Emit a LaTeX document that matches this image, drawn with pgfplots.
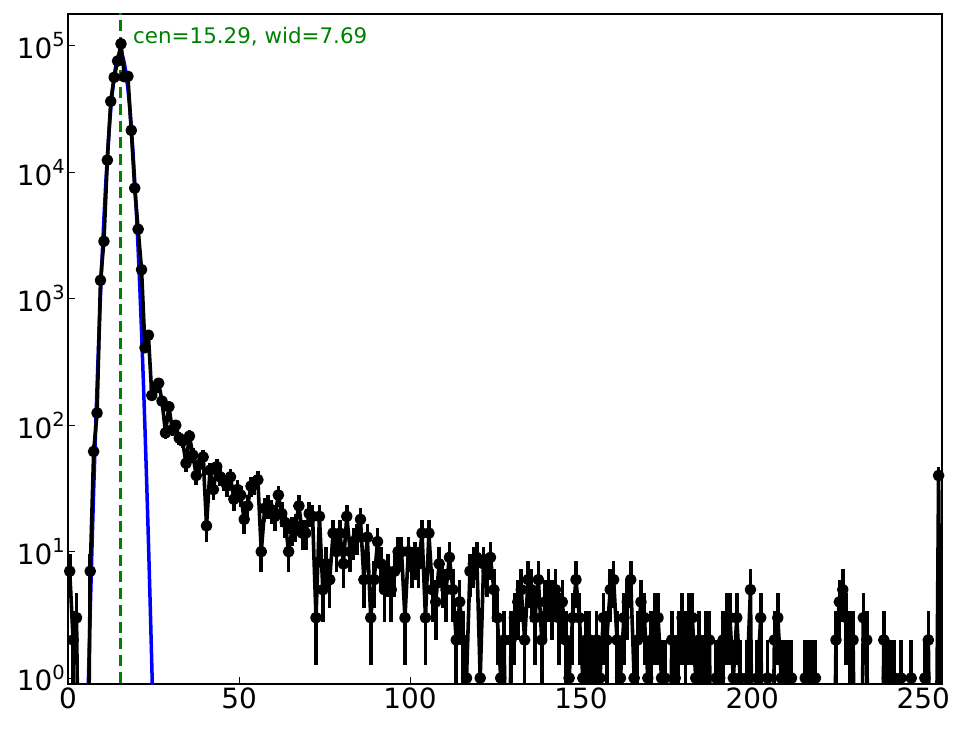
\documentclass[border=0pt]{standalone}
\usepackage{fontspec}
\setmainfont{DejaVu Sans}
\usepackage{pgfplots}
\pgfplotsset{compat=1.18}
\usepackage{pgfplotstable}

\definecolor{fitblue}{RGB}{0,0,255}
\definecolor{cengreen}{RGB}{0,128,0}

% 10^k tick labels set in the text font
\newcommand{\pw}[1]{10\raisebox{0.42em}{\fontsize{19.5}{21}\selectfont #1}}

% counts per bin (bin centre, count)
\pgfplotstableread[row sep=\\]{
x c\\
0.5 7\\ 1.5 2\\ 2.5 3\\ 3.5 0\\ 4.5 0\\ 5.5 0\\ 6.5 7\\ 7.5 62\\ 8.5 125\\ 9.5 1400\\
10.5 2850\\ 11.5 12500\\ 12.5 36500\\ 13.5 56500\\ 14.5 76000\\ 15.5 104000\\ 16.5 57000\\ 17.5 57500\\ 18.5 21500\\ 19.5 7500\\
20.5 3550\\ 21.5 1700\\ 22.5 410\\ 23.5 515\\ 24.5 172\\ 25.5 196\\ 26.5 215\\ 27.5 155\\ 28.5 87\\ 29.5 140\\
30.5 92\\ 31.5 100\\ 32.5 79\\ 33.5 75\\ 34.5 50\\ 35.5 82\\ 36.5 58\\ 37.5 40\\ 38.5 49\\ 39.5 56\\
40.5 16\\ 41.5 44\\ 42.5 31\\ 43.5 47\\ 44.5 39\\ 45.5 36\\ 46.5 33\\ 47.5 39\\ 48.5 26\\ 49.5 31\\
50.5 28\\ 51.5 18\\ 52.5 23\\ 53.5 33\\ 54.5 34\\ 55.5 37\\ 56.5 10\\ 57.5 22\\ 58.5 23\\ 59.5 21\\
60.5 19\\ 61.5 28\\ 62.5 20\\ 63.5 17\\ 64.5 10\\ 65.5 15\\ 66.5 16\\ 67.5 23\\ 68.5 14\\ 69.5 14\\
70.5 20\\ 71.5 19\\ 72.5 3\\ 73.5 19\\ 74.5 5\\ 75.5 8\\ 76.5 6\\ 77.5 14\\ 78.5 10\\ 79.5 14\\
80.5 8\\ 81.5 19\\ 82.5 10\\ 83.5 12\\ 84.5 13\\ 85.5 18\\ 86.5 6\\ 87.5 13\\ 88.5 3\\ 89.5 6\\
90.5 12\\ 91.5 8\\ 92.5 5\\ 93.5 7\\ 94.5 5\\ 95.5 7\\ 96.5 10\\ 97.5 10\\ 98.5 3\\ 99.5 10\\
100.5 8\\ 101.5 9\\ 102.5 8\\ 103.5 14\\ 104.5 3\\ 105.5 14\\ 106.5 5\\ 107.5 4\\ 108.5 8\\ 109.5 6\\
110.5 5\\ 111.5 9\\ 112.5 5\\ 113.5 2\\ 114.5 4\\ 115.5 2\\ 116.5 1\\ 117.5 7\\ 118.5 8\\ 119.5 9\\
120.5 1\\ 121.5 8\\ 122.5 7\\ 123.5 9\\ 124.5 5\\ 125.5 3\\ 126.5 1\\ 127.5 2\\ 128.5 0\\ 129.5 2\\
130.5 3\\ 131.5 4\\ 132.5 5\\ 133.5 2\\ 134.5 6\\ 135.5 5\\ 136.5 3\\ 137.5 6\\ 138.5 2\\ 139.5 4\\
140.5 5\\ 141.5 4\\ 142.5 5\\ 143.5 3\\ 144.5 4\\ 145.5 2\\ 146.5 1\\ 147.5 3\\ 148.5 6\\ 149.5 3\\
150.5 1\\ 151.5 2\\ 152.5 2\\ 153.5 1\\ 154.5 2\\ 155.5 1\\ 156.5 3\\ 157.5 2\\ 158.5 5\\ 159.5 6\\
160.5 2\\ 161.5 1\\ 162.5 3\\ 163.5 4\\ 164.5 6\\ 165.5 1\\ 166.5 2\\ 167.5 4\\ 168.5 3\\ 169.5 1\\
170.5 2\\ 171.5 3\\ 172.5 3\\ 173.5 1\\ 174.5 1\\ 175.5 0\\ 176.5 2\\ 177.5 1\\ 178.5 2\\ 179.5 3\\
180.5 2\\ 181.5 3\\ 182.5 3\\ 183.5 1\\ 184.5 2\\ 185.5 1\\ 186.5 2\\ 187.5 2\\ 188.5 0\\ 189.5 1\\
190.5 1\\ 191.5 2\\ 192.5 3\\ 193.5 3\\ 194.5 1\\ 195.5 3\\ 196.5 1\\ 197.5 0\\ 198.5 1\\ 199.5 5\\
200.5 0\\ 201.5 1\\ 202.5 3\\ 203.5 0\\ 204.5 1\\ 205.5 0\\ 206.5 2\\ 207.5 3\\ 208.5 1\\ 209.5 1\\
210.5 1\\ 211.5 1\\ 212.5 0\\ 213.5 0\\ 214.5 0\\ 215.5 1\\ 216.5 1\\ 217.5 1\\ 218.5 1\\ 219.5 0\\
220.5 0\\ 221.5 0\\ 222.5 0\\ 223.5 0\\ 224.5 2\\ 225.5 4\\ 226.5 5\\ 227.5 3\\ 228.5 2\\ 229.5 2\\
230.5 0\\ 231.5 0\\ 232.5 3\\ 233.5 2\\ 234.5 0\\ 235.5 0\\ 236.5 0\\ 237.5 0\\ 238.5 2\\ 239.5 1\\
240.5 1\\ 241.5 1\\ 242.5 0\\ 243.5 1\\ 244.5 0\\ 245.5 0\\ 246.5 1\\ 247.5 0\\ 248.5 0\\ 249.5 0\\
250.5 1\\ 251.5 2\\ 252.5 0\\ 253.5 0\\ 254.5 40\\ 255.5 0\\
}\counts

% gaussian fit, sampled
\pgfplotstableread[row sep=\\]{
x f\\
5.0 0.079\\ 5.5 0.296\\ 6.0 1.04\\ 6.5 3.41\\ 7.0 10.5\\ 7.5 30.2\\ 8.0 81.3\\ 8.5 205\\
9.0 484\\ 9.5 1072\\ 10.0 2220\\ 10.5 4307\\ 11.0 7825\\ 11.5 13306\\ 12.0 21208\\ 12.5 31618\\
13.0 44158\\ 13.5 57746\\ 14.0 70708\\ 14.5 81066\\ 15.0 87032\\ 15.29 88000\\ 15.5 87490\\ 16.0 82359\\
16.5 72591\\ 17.0 59910\\ 17.5 46297\\ 18.0 33502\\ 18.5 22704\\ 19.0 14414\\ 19.5 8559\\ 20.0 4760\\
20.5 2479\\ 21.0 1210\\ 21.5 552\\ 22.0 236\\ 22.5 94.6\\ 23.0 35.5\\ 23.5 12.5\\ 24.0 4.10\\
24.5 1.26\\ 25.0 0.363\\ 25.5 0.099\\
}\fit

\begin{document}
\begin{tikzpicture}
\useasboundingbox (-68bp,-45bp) rectangle (896bp,684bp);
\begin{axis}[
  at={(0,0)}, anchor=south west,
  scale only axis, width=874bp, height=670bp,
  xmin=0, xmax=255.5,
  ymin=0.897, ymax=1.79e5,
  ymode=log, log basis y=10,
  xtick={0,50,100,150,200,250},
  ytick={1,10,100,1000,10000,100000},
  yticklabels={\pw{0},\pw{1},\pw{2},\pw{3},\pw{4},\pw{5}},
  tick align=inside, tick pos=left,
  major tick length=7bp, minor tick length=4bp,
  every tick/.style={black, line width=1bp},
  axis line style={line width=1.3bp},
  tick label style={font=\fontsize{28}{32}\selectfont},
  xticklabel style={inner sep=0pt, yshift=-4bp},
  yticklabel style={inner sep=0pt, xshift=-3bp},
  /pgf/number format/assume math mode=true,
]
\addplot[fitblue, line width=3.5bp] table[x=x, y=f] {\fit};
\addplot[cengreen, line width=3.2bp, dash pattern=on 11bp off 5.7bp] coordinates {(15.29,0.5) (15.29,3e5)};
\addplot[black, line width=3.6bp, line join=round, mark=*, mark size=4bp,
  error bars/.cd, y dir=both, y explicit, error mark=none,
  error bar style={line width=3.6bp}]
  table[x=x, y expr={max(\thisrow{c},0.01)},
        y error expr={\thisrow{c}>0.5 ? min(sqrt(\thisrow{c}),0.99*\thisrow{c}) : 0}] {\counts};
\node[anchor=base west, text=cengreen, inner sep=0pt, font=\fontsize{21.5}{25}\selectfont]
  at (axis cs:19,1.04e5) {cen=15.29, wid=7.69};
\end{axis}
\end{tikzpicture}
\end{document}
